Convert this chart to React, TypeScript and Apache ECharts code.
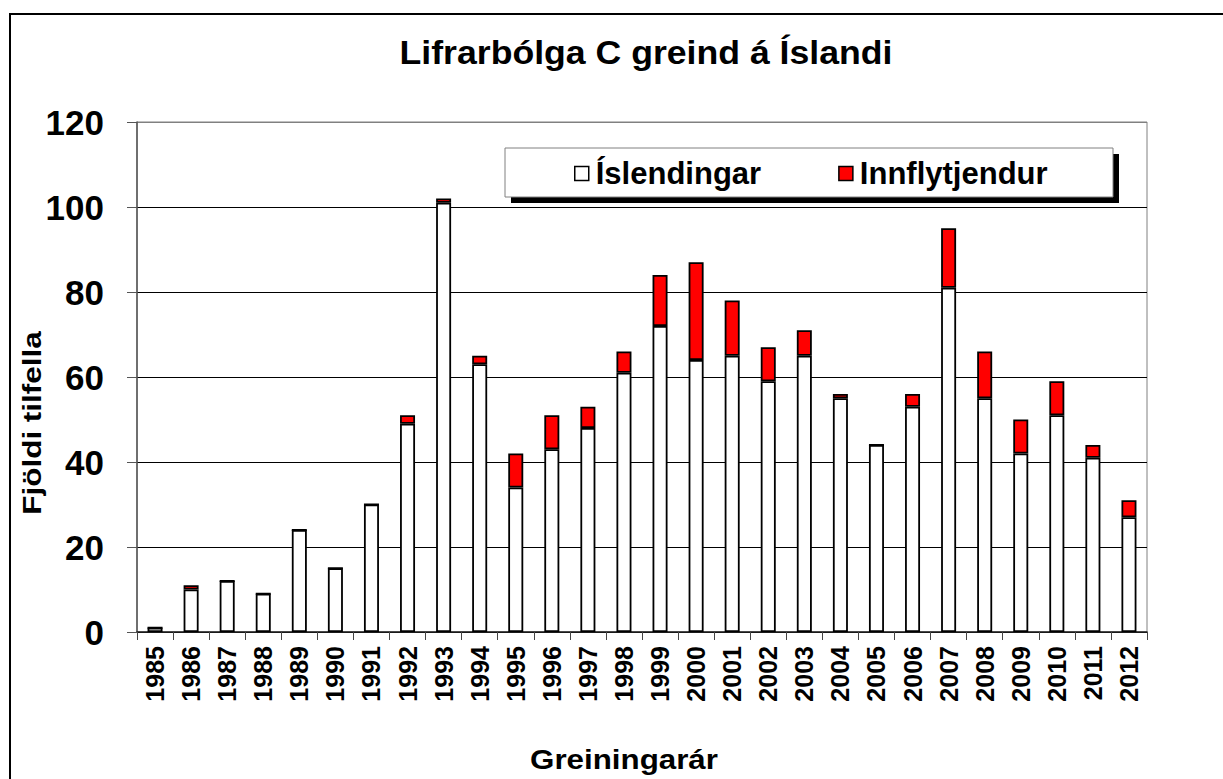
import React, { useEffect, useRef } from "react";
import * as echarts from "echarts";

const years = ["1985","1986","1987","1988","1989","1990","1991","1992","1993","1994","1995","1996","1997","1998","1999","2000","2001","2002","2003","2004","2005","2006","2007","2008","2009","2010","2011","2012"];
const islendingar = [1,10,12,9,24,15,30,49,101,63,34,43,48,61,72,64,65,59,65,55,44,53,81,55,42,51,41,27];
const innflytjendur = [0,1,0,0,0,0,0,2,1,2,8,8,5,5,12,23,13,8,6,1,0,3,14,11,8,8,3,4];
const yTicks = { min: 0, max: 120, interval: 20 };

const titleText = "Lifrarbólga C greind á Íslandi";
const yName = "Fjöldi tilfella";
const xName = "Greiningarár";
const seriesNames = ["Íslendingar", "Innflytjendur"];

const FONT = "'Liberation Sans', Arial, sans-serif";

export default function App() {
  const ref = useRef<HTMLDivElement>(null);
  useEffect(() => {
    if (!ref.current) return;
    const chart = echarts.init(ref.current, null, { renderer: "svg" });
    chart.setOption({
      animation: false,
      backgroundColor: "#fff",
      textStyle: { fontFamily: FONT },
      grid: {
        left: 137, top: 122, right: 76, bottom: 147,
        show: true, borderColor: "#808080", borderWidth: 1, backgroundColor: "transparent",
      },
      legend: {
        data: seriesNames,
        left: 574, top: 158,
        padding: 0,
        itemWidth: 14, itemHeight: 14,
        itemGap: 77,
        icon: "rect",
        z: 10,
        itemStyle: { borderColor: "#000", borderWidth: 1.5 },
        textStyle: { fontSize: 31, fontWeight: "bold", color: "#000", fontFamily: FONT, padding: [0, 0, 0, 2] },
      },
      xAxis: {
        type: "category",
        data: years,
        axisLine: { lineStyle: { color: "#222", width: 1.5 } },
        axisTick: { show: true, length: 8, lineStyle: { color: "#444" } },
        axisLabel: { interval: 0, rotate: 90, margin: 14, fontSize: 25, fontWeight: "bold", color: "#000", fontFamily: FONT },
      },
      yAxis: {
        type: "value",
        min: yTicks.min, max: yTicks.max, interval: yTicks.interval,
        axisLine: { show: true, lineStyle: { color: "#555", width: 1.5 } },
        axisTick: { show: true, length: 10, lineStyle: { color: "#555" } },
        axisLabel: { margin: 33, fontSize: 35, fontWeight: "bold", color: "#000", fontFamily: FONT },
        splitLine: { show: true, lineStyle: { color: ["#000","#000","#000","#000","#000","#000","#808080"], width: 1 } },
      },
      series: [
        {
          name: seriesNames[0], type: "bar", stack: "total", barWidth: 15,
          data: islendingar,
          itemStyle: { color: "#fff", borderColor: "#000", borderWidth: 1.8 },
        },
        {
          name: seriesNames[1], type: "bar", stack: "total", barWidth: 15,
          data: innflytjendur,
          itemStyle: { color: "#ff0000", borderColor: "#000", borderWidth: 1.8 },
        },
      ],
      graphic: [
        { type: "rect", z: -10, shape: { x: 10, y: 14, width: 1300, height: 900 }, style: { fill: "none", stroke: "#000", lineWidth: 2 } },
        { type: "rect", z: 5, shape: { x: 511, y: 154, width: 608, height: 49 }, style: { fill: "#000" } },
        { type: "rect", z: 6, shape: { x: 505, y: 148, width: 608, height: 49 }, style: { fill: "#fff", stroke: "#808080", lineWidth: 1 } },
        {
          type: "text", z: 10, x: 646, y: 52, scaleX: 1.08,
          style: { text: titleText, font: `bold 33px ${FONT}`, fill: "#000", align: "center", verticalAlign: "middle", textAlign: "center", textVerticalAlign: "middle" },
        },
        {
          type: "text", z: 10, x: 624, y: 760, scaleX: 1.16,
          style: { text: xName, font: `bold 27px ${FONT}`, fill: "#000", align: "center", verticalAlign: "middle", textAlign: "center", textVerticalAlign: "middle" },
        },
        {
          type: "text", z: 10, x: 32, y: 423, rotation: Math.PI / 2, scaleX: 1.21,
          style: { text: yName, font: `bold 26px ${FONT}`, fill: "#000", align: "center", verticalAlign: "middle", textAlign: "center", textVerticalAlign: "middle" },
        },
      ],
    });
    return () => chart.dispose();
  }, []);
  return <div ref={ref} style={{ position: "absolute", left: 0, top: 0, width: 1223, height: 779 }} />;
}
